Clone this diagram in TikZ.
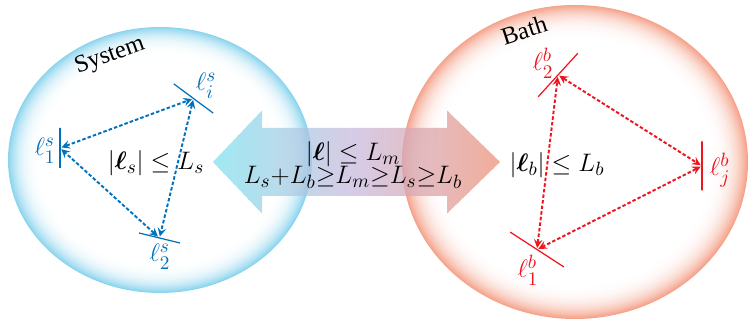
\documentclass[tikz,border=0pt]{standalone}
\usepackage{amsmath,amssymb}
\usepackage{bm}
\usepackage{fontspec}
\newfontfamily\tmsfont{Liberation Serif}
\usepackage{tikz}
\definecolor{sysblue}{RGB}{0,114,189}
\definecolor{bathred}{RGB}{240,20,30}
\definecolor{sysrim}{RGB}{138,212,238}
\definecolor{bathrim}{RGB}{245,162,138}
\definecolor{lnkL}{RGB}{125,225,238}
\definecolor{lnkM}{RGB}{200,182,218}
\definecolor{lnkR}{RGB}{238,140,112}
\tikzset{
  tick/.style={rectangle, draw, line width=0.7pt, line join=bevel, inner sep=0pt, minimum height=0pt},
  sarr/.style={draw=sysblue, line width=1.1pt, dash pattern=on 2pt off 1.2pt, <->, >=stealth, shorten <=0.5pt, shorten >=0.5pt},
  barr/.style={draw=bathred, line width=1.1pt, dash pattern=on 2pt off 1.2pt, <->, >=stealth, shorten <=0.5pt, shorten >=0.5pt},
  lbl/.style={font=\fontsize{15.5}{15.5}\selectfont, inner sep=1pt},
  eq/.style={font=\fontsize{15.5}{16}\selectfont, inner sep=1pt},
  ttl/.style={font=\tmsfont\fontsize{14}{14}\selectfont, inner sep=1pt}
}
\begin{document}
\begin{tikzpicture}
    \useasboundingbox (0,0) rectangle (15,6.44);
    \coordinate (sys) at (3.2,3.24);
    \coordinate (bath) at (11.5,3.2);
    \foreach \k in {0,...,40}{
      \pgfmathsetmacro\f{1-\k*0.006}
      \pgfmathsetmacro\p{100*(1-\k/40)^3}
      \fill[sysrim!\p!white] (sys) ellipse ({3.04*\f} and {2.66*\f});
      \fill[bathrim!\p!white] (bath) ellipse ({3.46*\f} and {3.14*\f});
    }
    \begin{scope}[transparency group, opacity=0.72]
      \clip (4.26,3.2) -- (5.24,4.23) -- (5.24,3.88) -- (8.94,3.88) -- (8.94,4.23)
        -- (10.0,3.2) -- (8.94,2.17) -- (8.94,2.52) -- (5.24,2.52) -- (5.24,2.17) -- cycle;
      \foreach \i in {0,...,28}{
        \pgfmathsetmacro\p{\i*100/28}
        \fill[lnkM!\p!lnkL] ({4.26+\i*0.1},2) rectangle ({4.38+\i*0.1},4.4);
      }
      \foreach \i in {0,...,29}{
        \pgfmathsetmacro\p{\i*100/29}
        \fill[lnkR!\p!lnkM] ({7.16+\i*0.1},2) rectangle ({7.28+\i*0.1},4.4);
      }
    \end{scope}
    \node[ttl, rotate=20] (systxt) at (2.2,5.32) {System};
    \node[ttl, rotate=18] (bathtxt) at (10.48,5.84) {Bath};
    \node[eq, align=center] (lm) at (7.06,3.14) {$|\bm{\ell}|\le L_m$\\[-3pt]$L_s{+}L_b{\ge}L_m{\ge}L_s{\ge}L_b$};
    \node[tick, draw=sysblue, minimum width=0.98cm, rotate=-36.6] (si) at (3.87,4.47) {};
    \node[tick, draw=sysblue, minimum width=0.8cm, rotate=90] (s1) at (1.2,3.48) {};
    \node[tick, draw=sysblue, minimum width=0.84cm, rotate=-13.7] (s2) at (3.19,1.68) {};
    \node[lbl, text=sysblue] (lsi) at (4.12,4.72) {$\ell_i^s$};
    \node[lbl, text=sysblue] (ls1) at (0.9,3.42) {$\ell_1^s$};
    \node[lbl, text=sysblue] (ls2) at (3.2,1.3) {$\ell_2^s$};
    \node[eq] (cs) at (3.12,3.18) {$|\bm{\ell}_s|\le L_s$};
    \draw[sarr] (s1)--(si); \draw[sarr] (si)--(s2);
    \draw[sarr] (s2)--(s1);
    \node[tick, draw=bathred, minimum width=1.18cm, rotate=47.7] (b2) at (11.16,4.94) {};
    \node[tick, draw=bathred, minimum width=0.98cm, rotate=90] (bj) at (14.04,3.12) {};
    \node[tick, draw=bathred, minimum width=1.28cm, rotate=-33] (b1) at (10.74,1.45) {};
    \node[lbl, text=bathred] (lb2) at (10.86,5.18) {$\ell_2^b$};
    \node[lbl, text=bathred] (lbj) at (14.4,3.04) {$\ell_j^b$};
    \node[lbl, text=bathred] (lb1) at (10.56,1.04) {$\ell_1^b$};
    \node[eq] (cb) at (11.14,3.14) {$|\bm{\ell}_b|\le L_b$};
    \draw[barr] (b2)--(bj); \draw[barr] (bj)--(b1);
    \draw[barr] (b1)--(b2);
  \end{tikzpicture}
\end{document}
